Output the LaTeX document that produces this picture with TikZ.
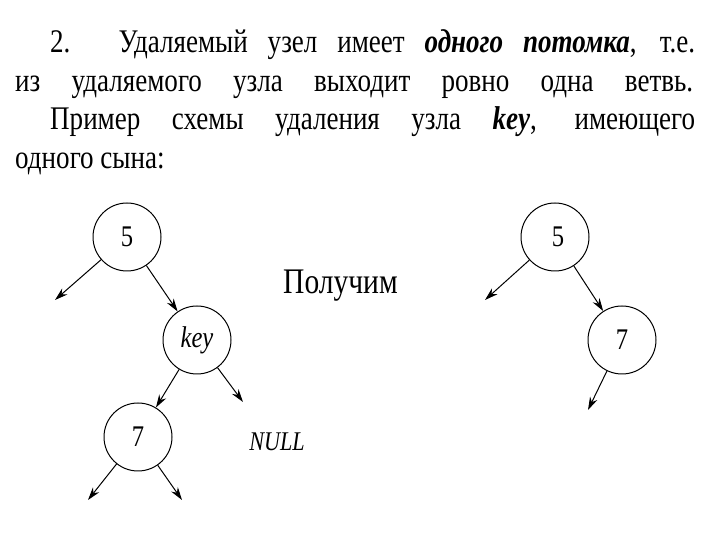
\documentclass[tikz,border=0pt]{standalone}
\usepackage{fontspec}
\setmainfont{Liberation Serif}[FakeStretch=0.82]
\usetikzlibrary{arrows.meta}
\begin{document}
\begin{tikzpicture}[x=1pt,y=1pt,
  nd/.style={draw,circle,minimum size=68pt,line width=1pt,inner sep=0pt,font=\fontsize{30}{34}\selectfont},
  ar/.style={-{Stealth[length=13pt,width=8pt]},line width=1pt},
  tx/.style={anchor=base west,inner sep=0pt,font=\fontsize{33}{38}\selectfont}]
\useasboundingbox (0,0) rectangle (720,540);
\node[tx] (l1) at (50,487) {\makebox[645pt][s]{2. Удаляемый узел имеет \textbf{\textit{одного потомка}}, т.е.}};
\node[tx] (l2) at (15,448) {\makebox[678pt][s]{из удаляемого узла выходит ровно одна ветвь.}};
\node[tx] (l3) at (50,410) {\makebox[645pt][s]{Пример схемы удаления узла \textbf{\textit{key}}, имеющего}};
\node[tx] (l4) at (15,371) {одного сына:};
\node[nd] (a) at (127,303) {\raisebox{-6pt}{5}\hspace{-6pt}};
\node[nd] (k) at (197,200) {\itshape key};
\node[nd] (s) at (138,103) {7};
\node[tx,font=\fontsize{36}{40}\selectfont] (g) at (283,246) {Получим};
\node[font=\fontsize{27}{30}\selectfont\itshape] (n) at (277,98) {NULL};
\node[nd] (b) at (555,303) {\raisebox{-6pt}{\hspace{6pt}5}};
\node[nd] (c) at (622,200) {\raisebox{-4pt}{7}};
\coordinate (a1) at (55,240);
\coordinate (k1) at (243,138);
\coordinate (s1) at (88,40);
\coordinate (s2) at (182,40);
\coordinate (b1) at (485,240);
\coordinate (c1) at (588,130);
\draw[ar] (a) -- (a1);
\draw[ar] (a) -- (k);
\draw[ar] (k) -- (s);
\draw[ar] (k) -- (k1);
\draw[ar] (s) -- (s1);
\draw[ar] (s) -- (s2);
\draw[ar] (b) -- (b1);
\draw[ar] (b) -- (c);
\draw[ar] (c) -- (c1);
\end{tikzpicture}
\end{document}
